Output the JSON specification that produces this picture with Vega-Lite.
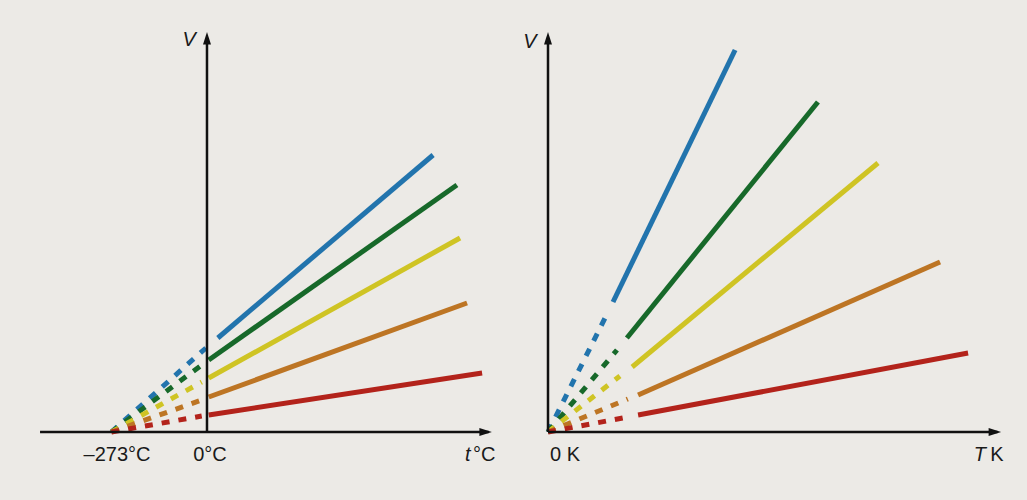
{
  "$schema": "https://vega.github.io/schema/vega-lite/v6.json",
  "background": "#eceae6",
  "padding": 0,
  "spacing": 0,
  "config": {"view": {"stroke": null}},
  "datasets": {
    "left": [
      {"gas": "A", "part": "dash", "x": -273, "v": 0},
      {"gas": "A", "part": "dash", "x": -3, "v": 84},
      {"gas": "A", "part": "solid", "x": 31, "v": 94},
      {"gas": "A", "part": "solid", "x": 646, "v": 277},
      {"gas": "B", "part": "dash", "x": -273, "v": 0},
      {"gas": "B", "part": "dash", "x": -15, "v": 67},
      {"gas": "B", "part": "solid", "x": 5, "v": 72},
      {"gas": "B", "part": "solid", "x": 714, "v": 247},
      {"gas": "C", "part": "dash", "x": -273, "v": 0},
      {"gas": "C", "part": "dash", "x": -15, "v": 50},
      {"gas": "C", "part": "solid", "x": 5, "v": 54},
      {"gas": "C", "part": "solid", "x": 723, "v": 194},
      {"gas": "D", "part": "dash", "x": -273, "v": 0},
      {"gas": "D", "part": "dash", "x": -15, "v": 32},
      {"gas": "D", "part": "solid", "x": 5, "v": 35},
      {"gas": "D", "part": "solid", "x": 743, "v": 129},
      {"gas": "E", "part": "dash", "x": -273, "v": 0},
      {"gas": "E", "part": "dash", "x": -15, "v": 16},
      {"gas": "E", "part": "solid", "x": 5, "v": 17},
      {"gas": "E", "part": "solid", "x": 786, "v": 59}
    ],
    "right": [
      {"gas": "A", "part": "dash", "x": 0, "v": 0},
      {"gas": "A", "part": "dash", "x": 182, "v": 120},
      {"gas": "A", "part": "solid", "x": 197, "v": 130},
      {"gas": "A", "part": "solid", "x": 567, "v": 382},
      {"gas": "B", "part": "dash", "x": 0, "v": 0},
      {"gas": "B", "part": "dash", "x": 209, "v": 82},
      {"gas": "B", "part": "solid", "x": 239, "v": 94},
      {"gas": "B", "part": "solid", "x": 818, "v": 330},
      {"gas": "C", "part": "dash", "x": 0, "v": 0},
      {"gas": "C", "part": "dash", "x": 218, "v": 56},
      {"gas": "C", "part": "solid", "x": 255, "v": 65},
      {"gas": "C", "part": "solid", "x": 1000, "v": 269},
      {"gas": "D", "part": "dash", "x": 0, "v": 0},
      {"gas": "D", "part": "dash", "x": 242, "v": 33},
      {"gas": "D", "part": "solid", "x": 273, "v": 37},
      {"gas": "D", "part": "solid", "x": 1188, "v": 170},
      {"gas": "E", "part": "dash", "x": 0, "v": 0},
      {"gas": "E", "part": "dash", "x": 242, "v": 15},
      {"gas": "E", "part": "solid", "x": 273, "v": 17},
      {"gas": "E", "part": "solid", "x": 1273, "v": 79}
    ],
    "leftAxes": [
      {"x": -477, "x2": 805, "v": 0, "v2": 0},
      {"x": 0, "x2": 0, "v": 0, "v2": 390}
    ],
    "rightAxes": [
      {"x": 0, "x2": 1362, "v": 0, "v2": 0},
      {"x": 0, "x2": 0, "v": 0, "v2": 390}
    ],
    "leftArrows": [
      {"x": 814, "v": 0, "dir": "right"},
      {"x": 0, "v": 400, "dir": "up"}
    ],
    "rightArrows": [
      {"x": 1373, "v": 0, "dir": "right"},
      {"x": 0, "v": 400, "dir": "up"}
    ],
    "leftText": [
      {"x": -257, "v": -23, "label": "–273°C", "style": "normal"},
      {"x": 8.6, "v": -23, "label": "0°C", "style": "normal"},
      {"x": 792, "v": -23, "label": "°C", "style": "normal"},
      {"x": 745, "v": -23, "label": "t", "style": "italic"},
      {"x": -51, "v": 392, "label": "V", "style": "italic"}
    ],
    "rightText": [
      {"x": 51.5, "v": -23, "label": "0 K", "style": "normal"},
      {"x": 1360, "v": -23, "label": "K", "style": "normal"},
      {"x": 1309, "v": -23, "label": "T", "style": "italic"},
      {"x": -54.5, "v": 390, "label": "V", "style": "italic"}
    ]
  },
  "resolve": {"scale": {"x": "independent", "y": "independent"}},
  "hconcat": [
    {
      "width": 520,
      "height": 500,
      "layer": [
        {
          "data": {"name": "left"},
          "transform": [{"filter": "datum.part === 'dash'"}],
          "mark": {"type": "line", "strokeWidth": 5, "strokeDash": [8, 9], "strokeCap": "butt"},
          "encoding": {
            "x": {"field": "x", "type": "quantitative", "scale": {"domain": [-591.4, 894.3], "nice": false, "zero": false}, "axis": null},
            "y": {"field": "v", "type": "quantitative", "scale": {"domain": [-68, 432], "nice": false, "zero": false}, "axis": null},
            "detail": {"field": "gas"},
            "color": {"field": "gas", "type": "nominal", "scale": {"domain": ["A", "B", "C", "D", "E"], "range": ["#2274ad", "#17692a", "#cfc424", "#bd7524", "#b3231b"]}, "legend": null}
          }
        },
        {
          "data": {"name": "left"},
          "transform": [{"filter": "datum.part === 'solid'"}],
          "mark": {"type": "line", "strokeWidth": 5, "strokeCap": "butt"},
          "encoding": {
            "x": {"field": "x", "type": "quantitative"},
            "y": {"field": "v", "type": "quantitative"},
            "detail": {"field": "gas"},
            "color": {"field": "gas", "type": "nominal", "legend": null}
          }
        },
        {
          "data": {"name": "leftAxes"},
          "mark": {"type": "rule", "strokeWidth": 2.5, "color": "#111111"},
          "encoding": {
            "x": {"field": "x", "type": "quantitative"},
            "x2": {"field": "x2"},
            "y": {"field": "v", "type": "quantitative"},
            "y2": {"field": "v2"}
          }
        },
        {
          "data": {"name": "leftArrows"},
          "mark": {"type": "point", "filled": true, "opacity": 1, "size": 100, "color": "#111111"},
          "encoding": {
            "x": {"field": "x", "type": "quantitative"},
            "y": {"field": "v", "type": "quantitative"},
            "shape": {"field": "dir", "type": "nominal", "scale": {"domain": ["right", "up"], "range": ["M0,0L-2.5,-0.8L-2.5,0.8Z", "M0,0L-0.8,2.5L0.8,2.5Z"]}, "legend": null}
          }
        },
        {
          "data": {"name": "leftText"},
          "transform": [{"filter": "datum.style === 'normal'"}],
          "mark": {"type": "text", "font": "Liberation Sans", "fontSize": 20, "color": "#1a1a1a", "align": "center", "baseline": "middle"},
          "encoding": {
            "x": {"field": "x", "type": "quantitative"},
            "y": {"field": "v", "type": "quantitative"},
            "text": {"field": "label"}
          }
        },
        {
          "data": {"name": "leftText"},
          "transform": [{"filter": "datum.style === 'italic'"}],
          "mark": {"type": "text", "font": "Liberation Sans", "fontSize": 20, "fontStyle": "italic", "color": "#1a1a1a", "align": "center", "baseline": "middle"},
          "encoding": {
            "x": {"field": "x", "type": "quantitative"},
            "y": {"field": "v", "type": "quantitative"},
            "text": {"field": "label"}
          }
        }
      ]
    },
    {
      "width": 507,
      "height": 500,
      "layer": [
        {
          "data": {"name": "right"},
          "transform": [{"filter": "datum.part === 'dash'"}],
          "mark": {"type": "line", "strokeWidth": 5, "strokeDash": [8, 9], "strokeCap": "butt"},
          "encoding": {
            "x": {"field": "x", "type": "quantitative", "scale": {"domain": [-84.85, 1451.5], "nice": false, "zero": false}, "axis": null},
            "y": {"field": "v", "type": "quantitative", "scale": {"domain": [-68, 432], "nice": false, "zero": false}, "axis": null},
            "detail": {"field": "gas"},
            "color": {"field": "gas", "type": "nominal", "scale": {"domain": ["A", "B", "C", "D", "E"], "range": ["#2274ad", "#17692a", "#cfc424", "#bd7524", "#b3231b"]}, "legend": null}
          }
        },
        {
          "data": {"name": "right"},
          "transform": [{"filter": "datum.part === 'solid'"}],
          "mark": {"type": "line", "strokeWidth": 5, "strokeCap": "butt"},
          "encoding": {
            "x": {"field": "x", "type": "quantitative"},
            "y": {"field": "v", "type": "quantitative"},
            "detail": {"field": "gas"},
            "color": {"field": "gas", "type": "nominal", "legend": null}
          }
        },
        {
          "data": {"name": "rightAxes"},
          "mark": {"type": "rule", "strokeWidth": 2.5, "color": "#111111"},
          "encoding": {
            "x": {"field": "x", "type": "quantitative"},
            "x2": {"field": "x2"},
            "y": {"field": "v", "type": "quantitative"},
            "y2": {"field": "v2"}
          }
        },
        {
          "data": {"name": "rightArrows"},
          "mark": {"type": "point", "filled": true, "opacity": 1, "size": 100, "color": "#111111"},
          "encoding": {
            "x": {"field": "x", "type": "quantitative"},
            "y": {"field": "v", "type": "quantitative"},
            "shape": {"field": "dir", "type": "nominal", "scale": {"domain": ["right", "up"], "range": ["M0,0L-2.5,-0.8L-2.5,0.8Z", "M0,0L-0.8,2.5L0.8,2.5Z"]}, "legend": null}
          }
        },
        {
          "data": {"name": "rightText"},
          "transform": [{"filter": "datum.style === 'normal'"}],
          "mark": {"type": "text", "font": "Liberation Sans", "fontSize": 20, "color": "#1a1a1a", "align": "center", "baseline": "middle"},
          "encoding": {
            "x": {"field": "x", "type": "quantitative"},
            "y": {"field": "v", "type": "quantitative"},
            "text": {"field": "label"}
          }
        },
        {
          "data": {"name": "rightText"},
          "transform": [{"filter": "datum.style === 'italic'"}],
          "mark": {"type": "text", "font": "Liberation Sans", "fontSize": 20, "fontStyle": "italic", "color": "#1a1a1a", "align": "center", "baseline": "middle"},
          "encoding": {
            "x": {"field": "x", "type": "quantitative"},
            "y": {"field": "v", "type": "quantitative"},
            "text": {"field": "label"}
          }
        }
      ]
    }
  ]
}
